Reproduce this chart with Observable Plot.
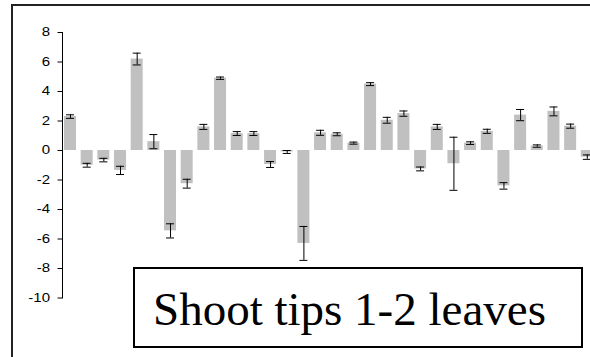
<!DOCTYPE html>
<html><head><meta charset="utf-8">
<script src="https://cdn.jsdelivr.net/npm/d3@7"></script>
<script src="https://cdn.jsdelivr.net/npm/@observablehq/plot@0.6"></script>
<style>
html,body{margin:0;padding:0;background:#fff;overflow:hidden;}
#wrap{position:relative;width:590px;height:357px;overflow:hidden;background:#fff;}
#wrap svg{position:absolute;left:0;top:0;}
#frame{position:absolute;left:11px;top:4px;width:700px;height:500px;border-top:2px solid #222;border-left:2px solid #222;}
#box{position:absolute;left:133px;top:267px;width:446px;height:77px;border:2px solid #000;background:#fff;}
#label{position:absolute;left:153px;top:286px;font-family:"Liberation Serif","Times New Roman",serif;font-size:47px;line-height:47px;white-space:nowrap;color:#000;}
</style>
</head><body>
<div id="wrap"></div>
<script>
const categories = Array.from({length: 32}, (_, i) => String(i + 1));
const values = [2.3, -1.0, -0.65, -1.35, 6.2, 0.6, -5.45, -2.25, 1.6, 4.9, 1.15, 1.15, -0.95, -0.1, -6.3, 1.2,
                1.1, 0.5, 4.5, 2.05, 2.5, -1.25, 1.6, -0.9, 0.5, 1.3, -2.4, 2.4, 0.3, 2.65, 1.65, -0.45];
const errors = [0.12, 0.13, 0.12, 0.28, 0.4, 0.48, 0.48, 0.3, 0.17, 0.08, 0.13, 0.13, 0.2, 0.1, 1.15, 0.17,
                0.1, 0.07, 0.1, 0.2, 0.18, 0.13, 0.17, 1.8, 0.09, 0.14, 0.22, 0.38, 0.08, 0.3, 0.14, 0.15];
const yTicks = [-10, -8, -6, -4, -2, 0, 2, 4, 6, 8];
const caption = "Shoot tips 1-2 leaves";

const data = categories.map((c, i) => ({cat: c, v: values[i], lo: values[i] - errors[i], hi: values[i] + errors[i]}));

const chart = Plot.plot({
  width: 590,
  height: 357,
  marginLeft: 62,
  marginTop: 32,
  marginBottom: 59.5,
  marginRight: 0,
  style: {fontFamily: "'Liberation Sans', Arial, sans-serif", fontSize: "12px", background: "transparent", color: "#000", overflow: "hidden"},
  x: {type: "band", domain: categories, range: [62, 594.8], round: false, paddingInner: 0.28, paddingOuter: 0.12, axis: null},
  y: {domain: [-10, 8], ticks: yTicks, tickFormat: d => String(d), tickSize: 4.5, tickPadding: 8, line: true, label: null, grid: false},
  marks: [
    Plot.barY(data, {x: "cat", y: "v", fill: "#c0c0c0"}),
    Plot.ruleX(data, {x: "cat", y1: "lo", y2: "hi", stroke: "#000", strokeWidth: 1}),
    Plot.tickY(data, {x: "cat", y: "lo", stroke: "#000", strokeWidth: 1, insetLeft: 2, insetRight: 2}),
    Plot.tickY(data, {x: "cat", y: "hi", stroke: "#000", strokeWidth: 1, insetLeft: 2, insetRight: 2})
  ]
});

// the reference's tick labels are drawn slightly wider than plain Arial
d3.select(chart).selectAll('g[aria-label="y-axis tick label"] text').each(function () {
  const t = this.getAttribute("transform");
  if (t) this.setAttribute("transform", t + " scale(1.25,1)");
});

const wrap = document.getElementById("wrap");
wrap.appendChild(chart);
const frame = document.createElement("div"); frame.id = "frame"; wrap.appendChild(frame);
const box = document.createElement("div"); box.id = "box"; wrap.appendChild(box);
const label = document.createElement("div"); label.id = "label"; label.textContent = caption; wrap.appendChild(label);
</script>
</body></html>
